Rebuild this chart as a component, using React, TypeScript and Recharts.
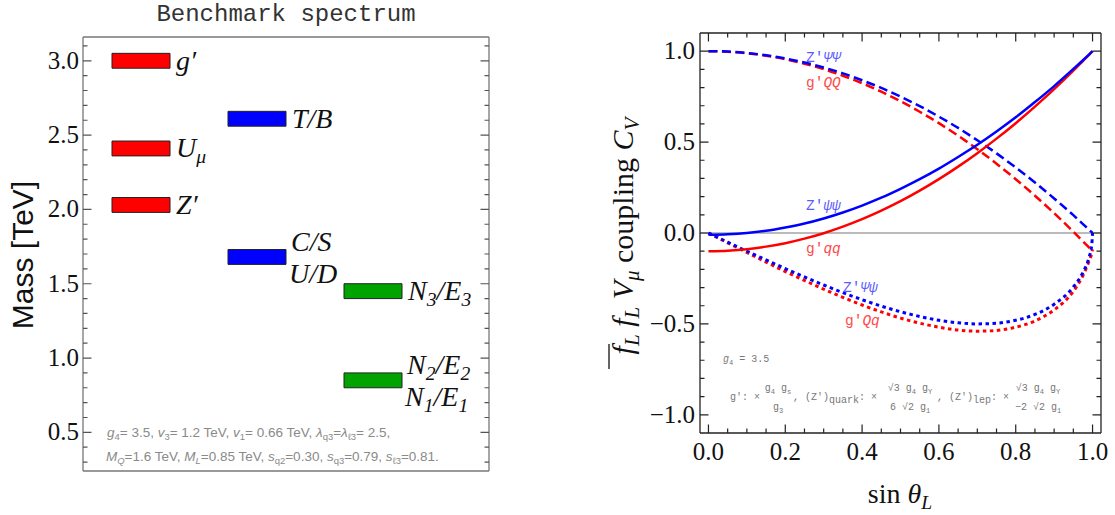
import React from 'react'
import { ComposedChart, LineChart, Line, XAxis, YAxis, ReferenceArea, ReferenceLine } from 'recharts'

// Left panel: benchmark spectrum (TeV)
const stateLabels = ['g′', 'U_μ', 'Z′', 'T/B', 'C/S\nU/D', 'N_3/E_3', 'N_2/E_2\nN_1/E_1']
const stateMasses = [3.0, 2.41, 2.03, 2.61, 1.68, 1.45, 0.85]
const stateSectors = ['vector', 'vector', 'vector', 'quark', 'quark', 'lepton', 'lepton']
const sectorOrder = ['vector', 'quark', 'lepton']
const massTicks = [0.5, 1.0, 1.5, 2.0, 2.5, 3.0]

// Right panel: couplings vs sin(theta_L)
const sinTheta = [0, 0.05, 0.1, 0.15, 0.2, 0.25, 0.3, 0.35, 0.4, 0.45, 0.5, 0.55, 0.6, 0.65, 0.7, 0.75, 0.8, 0.85, 0.9, 0.95, 0.975, 0.99, 0.998, 1.0]
const zPsiPsi = [1.0, 0.998, 0.99, 0.978, 0.96, 0.938, 0.91, 0.878, 0.84, 0.798, 0.75, 0.698, 0.64, 0.578, 0.51, 0.438, 0.36, 0.278, 0.19, 0.098, 0.049, 0.02, 0.004, 0.0]
const gQQ = [1.0, 0.997, 0.989, 0.975, 0.956, 0.931, 0.901, 0.865, 0.824, 0.777, 0.725, 0.667, 0.604, 0.535, 0.461, 0.381, 0.296, 0.205, 0.109, 0.007, -0.046, -0.078, -0.096, -0.1]
const zpsipsi = [-0.01, -0.007, 0.0, 0.012, 0.03, 0.052, 0.08, 0.113, 0.151, 0.194, 0.243, 0.296, 0.354, 0.418, 0.485, 0.558, 0.636, 0.72, 0.808, 0.902, 0.95, 0.98, 0.996, 1.0]
const gqq = [-0.1, -0.097, -0.089, -0.075, -0.056, -0.031, -0.001, 0.035, 0.076, 0.123, 0.175, 0.233, 0.296, 0.365, 0.439, 0.519, 0.604, 0.695, 0.791, 0.893, 0.946, 0.978, 0.996, 1.0]
const zPsipsi = [0, -0.05, -0.1, -0.148, -0.196, -0.242, -0.286, -0.328, -0.367, -0.402, -0.433, -0.459, -0.48, -0.494, -0.5, -0.496, -0.48, -0.448, -0.392, -0.297, -0.217, -0.14, -0.063, 0]
const gQq = [0, -0.054, -0.107, -0.16, -0.212, -0.261, -0.309, -0.354, -0.396, -0.434, -0.468, -0.496, -0.518, -0.534, -0.54, -0.536, -0.518, -0.484, -0.423, -0.321, -0.234, -0.16, -0.11, -0.09]
const couplingTicks = [-1.0, -0.5, 0.0, 0.5, 1.0]
const sinTicks = [0.0, 0.2, 0.4, 0.6, 0.8, 1.0]

const SERIF = "'Liberation Serif', 'Times New Roman', serif"
const SANS = "'Liberation Sans', Arial, sans-serif"
const MONO = "'Liberation Mono', 'Courier New', monospace"

const sectorColor: Record<string, string> = { vector: '#ff0000', quark: '#0000ff', lepton: '#00a300' }

// plot rectangles (page px) and domains, shared by the charts and the frame ticks
const LEFT = { x0: 83, x1: 489, y0: 37, y1: 471, xDom: [0, 3.5] as [number, number], yDom: [0.24, 3.16] as [number, number] }
const RIGHT = { x0: 700, x1: 1101, y0: 33, y1: 433, xDom: [-0.022, 1.022] as [number, number], yDom: [-1.1, 1.1] as [number, number] }

const range = (a: number, b: number, step: number) => {
  const out: number[] = []
  for (let v = a; v <= b + 1e-9; v += step) out.push(Math.round(v * 1000) / 1000)
  return out
}
const isIn = (list: number[], v: number) => list.some((m) => Math.abs(m - v) < 1e-6)

type Run = { t: string; sub?: boolean; it?: boolean }

const Runs = ({ items, size, shift }: { items: Run[]; size: number; shift: number }) => (
  <>
    {items.map((r, k) => {
      const prev = k > 0 && !!items[k - 1].sub
      const dy = r.sub && !prev ? shift : !r.sub && prev ? -shift : 0
      return (
        <tspan key={k} dy={dy || undefined} fontSize={r.sub ? size * 0.7 : size} fontStyle={r.it ? 'italic' : 'normal'}>
          {r.t}
        </tspan>
      )
    })}
  </>
)

const parseMath = (s: string): Run[] => {
  const out: Run[] = []
  for (let i = 0; i < s.length; i++) {
    if (s[i] === '_') {
      out.push({ t: s[i + 1], sub: true, it: true })
      i++
    } else {
      const last = out[out.length - 1]
      if (last && !last.sub) last.t += s[i]
      else out.push({ t: s[i], it: true })
    }
  }
  return out
}

function TickLabel(props: any) {
  const { payload, majors, side, gap } = props
  const x = Number(props.x)
  const y = Number(props.y)
  const v: number = payload.value
  if (!isIn(majors, v)) return <g />
  const txt = v.toFixed(1).replace('-', '\u2212')
  return side === 'left' ? (
    <text x={x - gap} y={y + 8} textAnchor="end" fontFamily={SERIF} fontSize={25} fill="#111">
      {txt}
    </text>
  ) : (
    <text x={x} y={y + 27} textAnchor="middle" fontFamily={SERIF} fontSize={25} fill="#111">
      {txt}
    </text>
  )
}

function StateLabel(props: any) {
  const { viewBox, text } = props
  if (!viewBox) return null
  const { x, y, width, height } = viewBox
  const cy = y + height / 2
  const right = x + width
  const lines: string[] = text.split('\n')
  const placements = lines.length === 1 ? [{ dx: 6, dy: 9 }] : [{ dx: 5, dy: -6 }, { dx: 3, dy: 26 }]
  return (
    <g>
      {lines.map((ln, k) => (
        <text key={k} x={right + placements[k].dx} y={cy + placements[k].dy} fontFamily={SERIF} fontSize={28} fill="#111">
          <Runs items={parseMath(ln)} size={28} shift={6} />
        </text>
      ))}
    </g>
  )
}

function SpectrumPanel() {
  const leftTicks = range(0.3, 3.1, 0.1)
  const frame = '#777'
  const rows = stateMasses.map((m, i) => ({ col: sectorOrder.indexOf(stateSectors[i]) + 0.5, mass: m }))
  return (
    <ComposedChart width={560} height={515} data={rows} margin={{ top: 36, right: 70, bottom: 43, left: 0 }}>
      <XAxis type="number" dataKey="col" domain={LEFT.xDom} allowDataOverflow height={1} tick={false} tickLine={false} axisLine={{ stroke: frame, strokeWidth: 1.3 }} />
      <XAxis xAxisId="top" orientation="top" type="number" dataKey="col" domain={LEFT.xDom} allowDataOverflow height={1} tick={false} tickLine={false} axisLine={{ stroke: frame, strokeWidth: 1.3 }} />
      <YAxis
        type="number"
        dataKey="mass"
        domain={LEFT.yDom}
        allowDataOverflow
        width={83}
        ticks={leftTicks}
        interval={0}
        tickSize={0}
        tickMargin={0}
        tickLine={false}
        axisLine={{ stroke: frame, strokeWidth: 1.3 }}
        tick={<TickLabel majors={massTicks} side="left" gap={4} />}
      />
      <YAxis yAxisId="right" orientation="right" type="number" domain={LEFT.yDom} allowDataOverflow width={1} tick={false} tickLine={false} axisLine={{ stroke: frame, strokeWidth: 1.3 }} />
      {stateMasses.map((m, i) => {
        const col = sectorOrder.indexOf(stateSectors[i]) + 0.5
        return (
          <ReferenceArea
            key={stateLabels[i]}
            x1={col - 0.25}
            x2={col + 0.25}
            y1={m - 0.05}
            y2={m + 0.05}
            fill={sectorColor[stateSectors[i]]}
            fillOpacity={1}
            stroke="#222"
            strokeWidth={1}
            ifOverflow="visible"
            label={<StateLabel text={stateLabels[i]} />}
          />
        )
      })}
    </ComposedChart>
  )
}

function CouplingPanel() {
  const rows = sinTheta.map((s, i) => ({
    s,
    zPsiPsi: zPsiPsi[i],
    gQQ: gQQ[i],
    zpsipsi: zpsipsi[i],
    gqq: gqq[i],
    zPsipsi: zPsipsi[i],
    gQq: gQq[i],
  }))
  const xTicks = range(0, 1, 0.05)
  const yTicks = range(-1.0, 1.0, 0.1)
  const frame = '#222'
  const dash = '9 4.5'
  const dot = '3.5 3.5'
  return (
    <LineChart width={555} height={515} data={rows} margin={{ top: 32, right: 13, bottom: 81, left: 80 }}>
      <XAxis
        type="number"
        dataKey="s"
        domain={RIGHT.xDom}
        allowDataOverflow
        height={1}
        ticks={xTicks}
        interval={0}
        tickSize={0}
        tickMargin={0}
        tickLine={false}
        axisLine={{ stroke: frame, strokeWidth: 1.3 }}
        tick={<TickLabel majors={sinTicks} side="bottom" gap={0} />}
      />
      <XAxis xAxisId="top" orientation="top" type="number" dataKey="s" domain={RIGHT.xDom} allowDataOverflow height={1} tick={false} tickLine={false} axisLine={{ stroke: frame, strokeWidth: 1.3 }} />
      <YAxis
        type="number"
        domain={RIGHT.yDom}
        allowDataOverflow
        width={60}
        ticks={yTicks}
        interval={0}
        tickSize={0}
        tickMargin={0}
        tickLine={false}
        axisLine={{ stroke: frame, strokeWidth: 1.3 }}
        tick={<TickLabel majors={couplingTicks} side="left" gap={5} />}
      />
      <YAxis yAxisId="right" orientation="right" type="number" domain={RIGHT.yDom} allowDataOverflow width={1} tick={false} tickLine={false} axisLine={{ stroke: frame, strokeWidth: 1.3 }} />
      <ReferenceLine y={0} stroke="#777" strokeWidth={1} />
      <Line type="monotone" dataKey="gQq" stroke="#ff0000" strokeWidth={3} strokeDasharray={dot} dot={false} isAnimationActive={false} />
      <Line type="monotone" dataKey="zPsipsi" stroke="#0000ff" strokeWidth={3} strokeDasharray={dot} dot={false} isAnimationActive={false} />
      <Line type="monotone" dataKey="gQQ" stroke="#ff0000" strokeWidth={2.5} strokeDasharray={dash} dot={false} isAnimationActive={false} />
      <Line type="monotone" dataKey="zPsiPsi" stroke="#0000ff" strokeWidth={2.5} strokeDasharray={dash} dot={false} isAnimationActive={false} />
      <Line type="monotone" dataKey="gqq" stroke="#ff0000" strokeWidth={2.5} dot={false} isAnimationActive={false} />
      <Line type="monotone" dataKey="zpsipsi" stroke="#0000ff" strokeWidth={2.5} dot={false} isAnimationActive={false} />
    </LineChart>
  )
}

// inward frame ticks on all four sides of a panel
function FrameTicks({ box, xTicks, xMajors, yTicks, yMajors, color }: any) {
  const px = (v: number) => box.x0 + ((v - box.xDom[0]) / (box.xDom[1] - box.xDom[0])) * (box.x1 - box.x0)
  const py = (v: number) => box.y1 - ((v - box.yDom[0]) / (box.yDom[1] - box.yDom[0])) * (box.y1 - box.y0)
  const len = (majors: number[], v: number) => (isIn(majors, v) ? 8.5 : 4.5)
  let d = ''
  for (const v of yTicks) {
    const y = py(v)
    const l = len(yMajors, v)
    d += `M${box.x0},${y}h${l}M${box.x1},${y}h${-l}`
  }
  for (const v of xTicks) {
    const x = px(v)
    const l = len(xMajors, v)
    d += `M${x},${box.y1}v${-l}M${x},${box.y0}v${l}`
  }
  return <path d={d} stroke={color} strokeWidth={1.2} fill="none" />
}

const note1: Run[] = [
  { t: 'g', it: true }, { t: '4', sub: true }, { t: '= 3.5, ' },
  { t: 'v', it: true }, { t: '3', sub: true }, { t: '= 1.2 TeV, ' },
  { t: 'v', it: true }, { t: '1', sub: true }, { t: '= 0.66 TeV, ' },
  { t: 'λ', it: true }, { t: 'q3', sub: true }, { t: '=' },
  { t: 'λ', it: true }, { t: 'ℓ3', sub: true }, { t: '= 2.5,' },
]
const note2: Run[] = [
  { t: 'M', it: true }, { t: 'Q', sub: true, it: true }, { t: '=1.6 TeV, ' },
  { t: 'M', it: true }, { t: 'L', sub: true, it: true }, { t: '=0.85 TeV, ' },
  { t: 's', it: true }, { t: 'q2', sub: true }, { t: '=0.30, ' },
  { t: 's', it: true }, { t: 'q3', sub: true }, { t: '=0.79, ' },
  { t: 's', it: true }, { t: 'ℓ3', sub: true }, { t: '=0.81.' },
]

const Frac = ({ cx, num, den }: { cx: number; num: Run[]; den: Run[] }) => (
  <>
    <text x={cx} y={391} textAnchor="middle"><Runs items={num} size={10} shift={3} /></text>
    <text x={cx} y={410} textAnchor="middle"><Runs items={den} size={10} shift={3} /></text>
  </>
)

function Overlay() {
  const curveLabel = (x: number, y: number, color: string, items: Run[]) => (
    <text x={x} y={y} fontFamily={MONO} fill={color}>
      <Runs items={items} size={14.5} shift={0} />
    </text>
  )
  const blue = '#5b5bff'
  const red = '#ff4a4a'
  const sqrtGY: Run[] = [{ t: '√3  g' }, { t: '4', sub: true }, { t: ' g' }, { t: 'Y', sub: true }]
  return (
    <svg width={1115} height={515} style={{ position: 'absolute', left: 0, top: 0, pointerEvents: 'none' }}>
      <FrameTicks box={LEFT} xTicks={[]} xMajors={[]} yTicks={range(0.3, 3.1, 0.1)} yMajors={massTicks} color="#555" />
      <FrameTicks box={RIGHT} xTicks={range(0, 1, 0.05)} xMajors={sinTicks} yTicks={range(-1.0, 1.0, 0.1)} yMajors={couplingTicks} color="#222" />

      <text x={286} y={21} textAnchor="middle" fontFamily={MONO} fontSize={24} fill="#333">
        Benchmark spectrum
      </text>
      <text transform="translate(33 255) rotate(-90)" textAnchor="middle" fontFamily={SANS} fontSize={30} fill="#111">
        Mass [TeV]
      </text>
      <g fontFamily={SANS} fill="#8a8a8a">
        <text x={107} y={437}><Runs items={note1} size={13.5} shift={3} /></text>
        <text x={106} y={461}><Runs items={note2} size={13.5} shift={3} /></text>
      </g>

      <text x={900} y={503} textAnchor="middle" fontFamily={SERIF} fill="#111">
        <Runs items={[{ t: 'sin ' }, { t: 'θ', it: true }, { t: 'L', sub: true, it: true }]} size={28} shift={6} />
      </text>
      <g transform="translate(633 236) rotate(-90)">
        <text x={0} y={0} textAnchor="middle" fontFamily={SERIF} fill="#111">
          <Runs
            items={[
              { t: 'f', it: true }, { t: 'L', sub: true, it: true }, { t: '  f', it: true },
              { t: 'L', sub: true, it: true }, { t: ' V', it: true }, { t: 'μ', sub: true, it: true },
              { t: ' coupling ' }, { t: 'C', it: true }, { t: 'V', sub: true, it: true },
            ]}
            size={30}
            shift={6}
          />
        </text>
        <line x1={-133} x2={-108} y1={-24} y2={-24} stroke="#111" strokeWidth={1.3} />
      </g>

      {curveLabel(806, 62, blue, [{ t: 'Z′' }, { t: 'ΨΨ', it: true }])}
      {curveLabel(806, 87, red, [{ t: 'g′' }, { t: 'QQ', it: true }])}
      {curveLabel(806, 210, blue, [{ t: 'Z′' }, { t: 'ψψ', it: true }])}
      {curveLabel(806, 253, red, [{ t: 'g′' }, { t: 'qq', it: true }])}
      {curveLabel(843, 292, blue, [{ t: 'Z′' }, { t: 'Ψψ', it: true }])}
      {curveLabel(845, 325, red, [{ t: 'g′' }, { t: 'Qq', it: true }])}

      <g fontFamily={MONO} fontSize={10} fill="#777">
        <text x={723} y={362}><Runs items={[{ t: 'g', it: true }, { t: '4', sub: true }, { t: ' = 3.5' }]} size={10} shift={3} /></text>
        <text x={730} y={400}>g′: ×</text>
        <Frac cx={778} num={[{ t: 'g' }, { t: '4', sub: true }, { t: ' g' }, { t: 's', sub: true }]} den={[{ t: 'g' }, { t: '3', sub: true }]} />
        <text x={793} y={400}>, (Z′)</text>
        <text x={829} y={403}>quark</text>
        <text x={859} y={400}>: ×</text>
        <Frac cx={910} num={sqrtGY} den={[{ t: '6 √2  g' }, { t: '1', sub: true }]} />
        <text x={937} y={400}>, (Z′)</text>
        <text x={973} y={403}>lep</text>
        <text x={991} y={400}>: ×</text>
        <Frac cx={1038} num={sqrtGY} den={[{ t: '−2 √2  g' }, { t: '1', sub: true }]} />
      </g>
    </svg>
  )
}

export default function App() {
  return (
    <div style={{ position: 'relative', width: 1115, height: 515, background: '#fff' }}>
      <style>{'body{margin:0}'}</style>
      <div style={{ position: 'absolute', left: 0, top: 0 }}>
        <SpectrumPanel />
      </div>
      <div style={{ position: 'absolute', left: 560, top: 0 }}>
        <CouplingPanel />
      </div>
      <Overlay />
    </div>
  )
}
